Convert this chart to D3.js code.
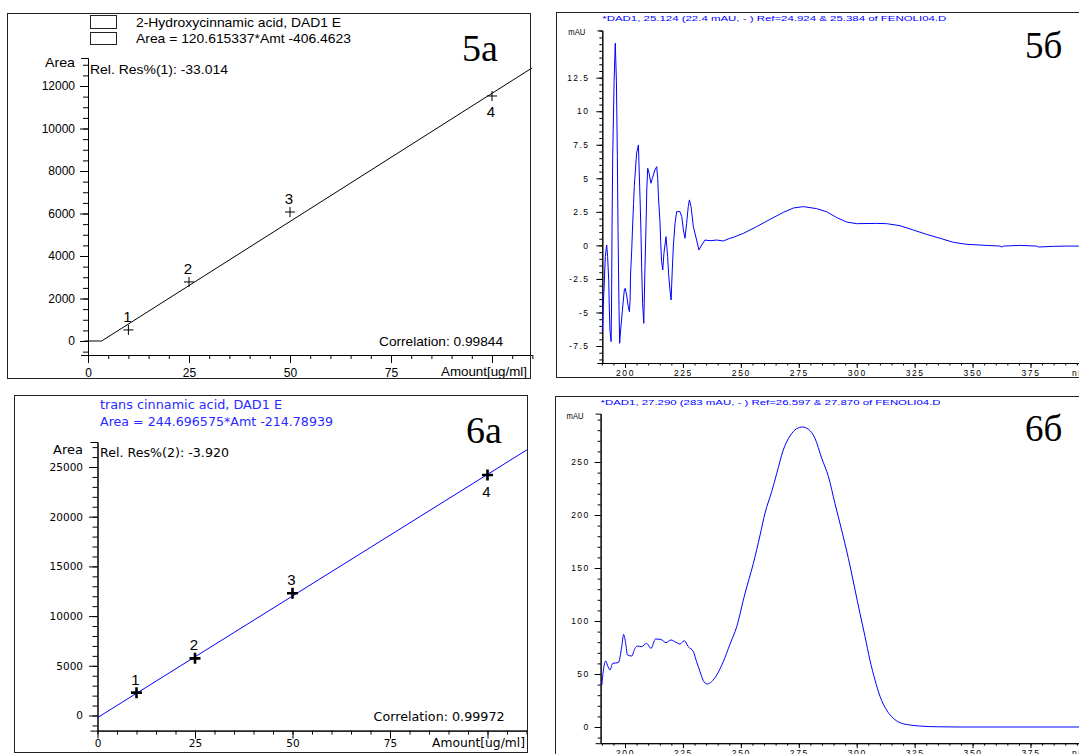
<!DOCTYPE html>
<html>
<head>
<meta charset="utf-8">
<script src="https://cdn.jsdelivr.net/npm/d3@7"></script>
<style>
  html, body { margin: 0; padding: 0; background: #fff; }
  svg { display: block; }
</style>
</head>
<body>
<div id="chart"></div>
<script>
// ---- calibration 5а (2-Hydroxycinnamic acid)
const calA_amt = [10, 25, 50, 100];
const calA_area = [520, 2780, 6070, 11530];
const calA_fit = [120.615337, -406.4623];

// ---- calibration 6а (trans cinnamic acid)
const calB_amt = [10, 25, 50, 100];
const calB_area = [2300, 5750, 12300, 24200];
const calB_fit = [244.696575, -214.78939];

// ---- tick labels
const amtTicks = [0, 25, 50, 75, 100];
const amtLabels = ["0", "25", "50", "75", ""];
const areaTicksA = [0, 2000, 4000, 6000, 8000, 10000, 12000];
const areaTicksB = [0, 5000, 10000, 15000, 20000, 25000];
const nmTicks = [200, 225, 250, 275, 300, 325, 350, 375, 400];
const mauTicksA = [-7.5, -5, -2.5, 0, 2.5, 5, 7.5, 10, 12.5];
const mauTicksB = [0, 50, 100, 150, 200, 250];

// ---- spectrum 5б
const specA_nm = [
  190.2, 190.6, 191.1, 191.5, 192.1, 192.5, 193.0, 193.2, 193.5, 194.0,
  194.2, 194.4, 194.7, 195.3, 195.8, 196.3, 196.7, 197.0, 197.4, 197.7,
  198.1, 198.7, 199.1, 199.7, 200.1, 200.7, 201.4, 201.9, 202.2, 202.4,
  202.9, 203.3, 203.7, 204.0, 204.5, 205.0, 205.8, 206.0, 206.5, 206.9,
  207.2, 207.6, 208.1, 208.6, 209.1, 209.4, 209.8, 210.4, 211.2, 211.8,
  212.9, 213.7, 214.1, 214.5, 215.1, 215.4, 215.8, 216.3, 216.8, 217.7,
  218.4, 218.8, 219.4, 219.9, 220.4, 220.9, 221.6, 222.3, 223.7, 224.5,
  225.2, 225.9, 226.6, 227.3, 227.8, 228.5, 229.5, 230.9, 231.9, 233.1,
  234.5, 236.7, 239.6, 242.4, 245.3,
  246.8, 251.1, 256.8, 262.6, 268.3, 272.7, 277.0, 282.7, 287.0, 291.4,
  295.7, 300.0, 308.6, 312.9, 318.7, 324.4, 330.2, 336.0, 341.7, 347.5,
  356.1, 361.8, 362.6, 363.4, 370.5, 377.7, 378.5, 384.9, 390.6, 395.7,
  400.0
];
const specA_mAU = [
  -6.43, -4.57, -2.58, -0.84, 0.03, -0.84, -2.70, -4.44, -6.31, -7.17,
  -4.44, 1.15, 6.74, 12.21, 15.07, 12.21, 6.62, 1.03, -4.57, -7.30,
  -6.31, -5.19, -4.44, -3.32, -3.20, -3.70, -4.57, -4.94, -4.07, -2.20,
  -0.34, 1.52, 3.14, 4.38, 5.62, 6.87, 7.49, 6.24, 3.51, 0.90,
  -1.71, -4.32, -5.81, -1.83, 1.65, 4.13, 5.75, 5.37, 4.63, 5.00,
  5.62, 5.87, 5.00, 3.39, 1.77, 0.28, -1.21, -1.83, -0.59, 0.65,
  -0.84, -2.08, -3.32, -4.07, -1.83, 0.03, 1.65, 2.52, 2.52, 2.14,
  1.15, 0.53, 1.65, 2.89, 3.39, 2.89, 1.40, 0.40, -0.34, 0.03,
  0.40, 0.35, 0.40, 0.33, 0.53,
  0.60, 0.90, 1.40, 1.94, 2.46, 2.79, 2.89, 2.74, 2.51, 2.07,
  1.74, 1.62, 1.64, 1.62, 1.47, 1.15, 0.82, 0.53, 0.23, 0.08,
  0.00, -0.05, -0.12, -0.05, 0.00, -0.05, -0.12, -0.07, -0.05, -0.05,
  -0.05
];

// ---- spectrum 6б
const specB_nm = [
  190.0, 190.6, 191.7, 192.4, 193.5, 194.7, 197.1, 198.6, 199.4, 200.3,
  201.1, 202.9, 204.3, 205.3, 207.2, 209.3, 211.2, 213.2, 215.4, 217.7,
  219.8, 222.0, 223.7, 225.6, 227.3, 229.5, 230.9, 232.4, 233.8, 235.5,
  237.4, 239.6, 242.4,
  245.3, 248.2, 251.8, 255.4, 258.3, 260.4, 263.3, 265.5, 268.3, 271.2,
  274.1, 276.6, 279.1, 282.0, 284.9, 287.8, 290.6, 293.5, 296.4, 299.3,
  301.4, 303.6, 305.7, 307.9, 310.1, 312.9, 315.8, 318.7, 323.0, 327.3,
  335.0, 345.0, 400.0
];
const specB_mAU = [
  39.6, 52.2, 62.3, 58.5, 53.8, 60.1, 60.7, 75.8, 87.4, 78.9,
  67.9, 67.0, 74.2, 76.4, 75.8, 78.9, 74.2, 83.0, 82.7, 79.6,
  82.1, 79.9, 78.3, 81.4, 75.8, 71.1, 61.6, 52.2, 43.7, 40.6,
  42.8, 49.1, 61.6,
  78.0, 94.6, 126.1, 154.4, 181.1, 201.6, 222.0, 239.3, 261.3, 274.5,
  281.5, 283.0, 281.0, 272.3, 253.5, 236.2, 211.0, 185.8, 159.1, 129.2,
  107.2, 85.2, 63.2, 44.3, 28.6, 16.0, 8.2, 4.1, 1.9, 0.9,
  0.2, 0.0, 0.0
];

const W = 1079, H = 754;
const BLUE = "#0000ff";
const SANS = "'Liberation Sans', Arial, sans-serif";
const DEJA = "'DejaVu Sans', sans-serif";
const SERIF = "'Liberation Serif', 'DejaVu Serif', serif";

const svg = d3.select("#chart").append("svg")
  .attr("width", W).attr("height", H)
  .attr("viewBox", `0 0 ${W} ${H}`);

// linear scale fixed by two anchors, then stretched to the axis ends
function lin(d0, d1, r0, r1, lo, hi) {
  const s = d3.scaleLinear().domain([d0, d1]).range([r0, r1]);
  return s.domain([s.invert(lo), s.invert(hi)]).range([lo, hi]);
}

function label(g, x, y, s, o) {
  const t = g.append("text").attr("x", x).attr("y", y).text(s)
    .attr("font-family", o.font).attr("font-size", o.size)
    .attr("fill", o.fill || "#000");
  if (o.len) t.attr("textLength", o.len).attr("lengthAdjust", "spacingAndGlyphs");
  if (o.anchor) t.attr("text-anchor", o.anchor);
  if (o.ls) t.attr("letter-spacing", o.ls);
  return t;
}

// minor + major ticks, each in its own group so the axis joins don't clash
function axis(g, make, scale, minors, majors, fmt, o) {
  g.append("g").call(make(scale).tickValues(minors).tickSize(o.minLen)
    .tickFormat("").tickSizeOuter(o.outer || 0));
  const m = g.append("g").call(make(scale).tickValues(majors).tickSize(o.majLen)
    .tickPadding(o.pad).tickFormat(fmt).tickSizeOuter(0));
  g.attr("color", "#000");
  g.selectAll("g").attr("font-family", o.font).attr("font-size", o.size);
  if (o.ls) m.selectAll("text").attr("letter-spacing", o.ls);
}

function frame(x0, y0, x1, y1) {
  svg.append("rect").attr("x", x0).attr("y", y0)
    .attr("width", x1 - x0).attr("height", y1 - y0)
    .attr("fill", "none").attr("stroke", "#222").attr("stroke-width", 1);
}

// =============== 5а ===============
{
  const g = svg.append("g");
  frame(7.5, 13.5, 530.5, 378.5);
  const x = lin(0, 100, 88, 492, 88, 532);
  const y = lin(0, 12000, 341, 86, 355, 58);

  axis(g.append("g").attr("transform", "translate(0,355)"), d3.axisBottom, x,
    d3.range(0, 111, 5), amtTicks, (d, i) => amtLabels[i],
    { minLen: 4, majLen: 8, pad: 5.5, font: SANS, size: 12 });
  axis(g.append("g").attr("transform", "translate(88,0)"), d3.axisLeft, y,
    d3.range(-500, 13001, 500), areaTicksA, d => String(d),
    { minLen: 5, majLen: 8, pad: 5, font: SANS, size: 12, outer: 7 });

  // calibration line (clamped at zero below the intercept)
  const xEnd = x.domain()[1];
  const fit = [[-0.9, 0], [-calA_fit[1] / calA_fit[0], 0],
    [xEnd, calA_fit[0] * xEnd + calA_fit[1]]];
  g.append("path").datum(fit)
    .attr("d", d3.line().x(d => x(d[0])).y(d => y(d[1])))
    .attr("fill", "none").attr("stroke", "#000").attr("stroke-width", 1);

  const pts = calA_amt.map((a, i) => ({ a, v: calA_area[i], n: i + 1 }));
  g.selectAll(".pt").data(pts).join("path")
    .attr("transform", d => `translate(${x(d.a)},${y(d.v)})`)
    .attr("d", "M-5,0H5M0,-5V5").attr("stroke", "#000").attr("stroke-width", 1);
  g.selectAll(".num").data(pts).join("text")
    .attr("x", d => x(d.a) - 1)
    .attr("y", d => d.n === 4 ? y(d.v) + 21 : y(d.v) - 8)
    .attr("text-anchor", "middle").attr("font-family", SANS).attr("font-size", 15)
    .text(d => d.n);

  g.append("rect").attr("x", 90.5).attr("y", 15.5).attr("width", 26).attr("height", 13)
    .attr("fill", "none").attr("stroke", "#222");
  g.append("rect").attr("x", 90.5).attr("y", 32.5).attr("width", 26).attr("height", 12)
    .attr("fill", "none").attr("stroke", "#222");
  label(g, 136, 26.5, "2-Hydroxycinnamic acid, DAD1 E", { font: SANS, size: 13.5, len: 205 });
  label(g, 136, 42.5, "Area = 120.615337*Amt -406.4623", { font: SANS, size: 13.5, len: 215 });
  label(g, 462, 61, "5а", { font: SERIF, size: 38 });
  label(g, 45, 67, "Area", { font: SANS, size: 13, len: 30 });
  label(g, 90, 73.5, "Rel. Res%(1): -33.014", { font: SANS, size: 13, len: 138 });
  label(g, 379, 346, "Correlation: 0.99844", { font: SANS, size: 13, len: 124 });
  label(g, 441, 376, "Amount[ug/ml]", { font: SANS, size: 13, len: 86 });
}

// =============== 6а ===============
{
  const g = svg.append("g");
  frame(14.5, 395.5, 527.5, 752.5);
  const x = lin(0, 100, 97.5, 487.5, 97.5, 527);
  const y = lin(0, 25000, 715.5, 467, 730.6, 442);

  axis(g.append("g").attr("transform", "translate(0,730.6)"), d3.axisBottom, x,
    d3.range(0, 111, 5), amtTicks, (d, i) => amtLabels[i],
    { minLen: 4, majLen: 8, pad: 1, font: DEJA, size: 10.5 });
  axis(g.append("g").attr("transform", "translate(97.5,0)"), d3.axisLeft, y,
    d3.range(-1000, 27001, 1000), areaTicksB, d => String(d),
    { minLen: 5, majLen: 8.5, pad: 6, font: DEJA, size: 10.5, outer: 7 });

  const xEnd = x.domain()[1];
  const fit = [[0, calB_fit[1]], [xEnd, calB_fit[0] * xEnd + calB_fit[1]]];
  g.append("path").datum(fit)
    .attr("d", d3.line().x(d => x(d[0])).y(d => y(d[1])))
    .attr("fill", "none").attr("stroke", BLUE).attr("stroke-width", 1);

  const pts = calB_amt.map((a, i) => ({ a, v: calB_area[i], n: i + 1 }));
  g.selectAll(".pt").data(pts).join("path")
    .attr("transform", d => `translate(${x(d.a)},${y(d.v)})`)
    .attr("d", "M-5.5,0H5.5M0,-5.5V5.5").attr("stroke", "#000").attr("stroke-width", 2.6);
  g.selectAll(".num").data(pts).join("text")
    .attr("x", d => x(d.a) - 1)
    .attr("y", d => d.n === 4 ? y(d.v) + 22 : y(d.v) - 8)
    .attr("text-anchor", "middle").attr("font-family", SANS).attr("font-size", 15)
    .text(d => d.n);

  label(g, 100, 408.5, "trans cinnamic acid, DAD1 E", { font: DEJA, size: 12, len: 182, fill: "#2a2aff" });
  label(g, 100, 425.5, "Area = 244.696575*Amt -214.78939", { font: DEJA, size: 12, len: 233, fill: "#2a2aff" });
  label(g, 466, 443, "6а", { font: SERIF, size: 38 });
  label(g, 53, 454, "Area", { font: DEJA, size: 11.5, len: 30 });
  label(g, 100, 457, "Rel. Res%(2): -3.920", { font: DEJA, size: 11.5, len: 129 });
  label(g, 373.6, 721, "Correlation: 0.99972", { font: DEJA, size: 11.5, len: 131 });
  label(g, 432, 747, "Amount[ug/ml]", { font: DEJA, size: 11.5, len: 93 });
}

// =============== spectra ===============
function spectrum(o) {
  const g = svg.append("g");
  frame(o.fx, o.fy0, 1100, o.fy1);
  const x = lin(200, 375, 625, 1030.5, o.ax, 1090);
  const y = lin(0, o.t1, o.y0px, o.y1px, o.axY, o.top);

  axis(g.append("g").attr("transform", `translate(0,${o.axY})`), d3.axisBottom, x,
    d3.range(190, 401, 5), nmTicks, d => d === 400 ? "" : String(d),
    { minLen: 2.5, majLen: 5, pad: 2, font: SANS, size: 8.5, ls: "1.6px" });
  axis(g.append("g").attr("transform", `translate(${o.ax},0)`), d3.axisLeft, y,
    o.minors, o.ticks, d => String(d),
    { minLen: 3, majLen: 6, pad: o.ypad, font: SANS, size: 8.5, ls: "1.4px", outer: 5 });

  const data = o.nm.map((n, i) => [n, o.v[i]]);
  g.append("path").datum(data)
    .attr("d", d3.line().curve(o.curve).x(d => x(d[0])).y(d => y(d[1])))
    .attr("fill", "none").attr("stroke", BLUE).attr("stroke-width", 1)
    .attr("stroke-linejoin", "round");

  label(g, o.ax, o.fy0 + 8.5, o.head, { font: SANS, size: 8, len: o.headLen, fill: BLUE });
  label(g, o.ax - 34, o.top + 5, "mAU", { font: SANS, size: 8.5, len: 17 });
  label(g, 1025, o.tagY, o.tag, { font: SERIF, size: 37 });
  label(g, 1072, o.axY + 12.5, "nm", { font: SANS, size: 8.5, ls: "1.5px" });
}

spectrum({
  fx: 556.5, fy0: 12.5, fy1: 377.5, ax: 602.3, axY: 363, top: 30.4,
  t1: 12.5, y0px: 245.4, y1px: 77.7, ypad: 7,
  ticks: mauTicksA, minors: d3.range(-8.5, 16.01, 0.5),
  nm: specA_nm, v: specA_mAU, curve: d3.curveLinear,
  head: "*DAD1, 25.124 (22.4 mAU, - ) Ref=24.924 & 25.384 of FENOLI04.D", headLen: 344,
  tag: "5б", tagY: 58
});

spectrum({
  fx: 555.5, fy0: 396.5, fy1: 770, ax: 600.6, axY: 743.2, top: 413.6,
  t1: 250, y0px: 727, y1px: 462, ypad: 5,
  ticks: mauTicksB, minors: d3.range(-10, 291, 10),
  nm: specB_nm, v: specB_mAU, curve: d3.curveMonotoneX,
  head: "*DAD1, 27.290 (283 mAU, - ) Ref=26.597 & 27.870 of FENOLI04.D", headLen: 340,
  tag: "6б", tagY: 441
});
</script>
</body>
</html>
